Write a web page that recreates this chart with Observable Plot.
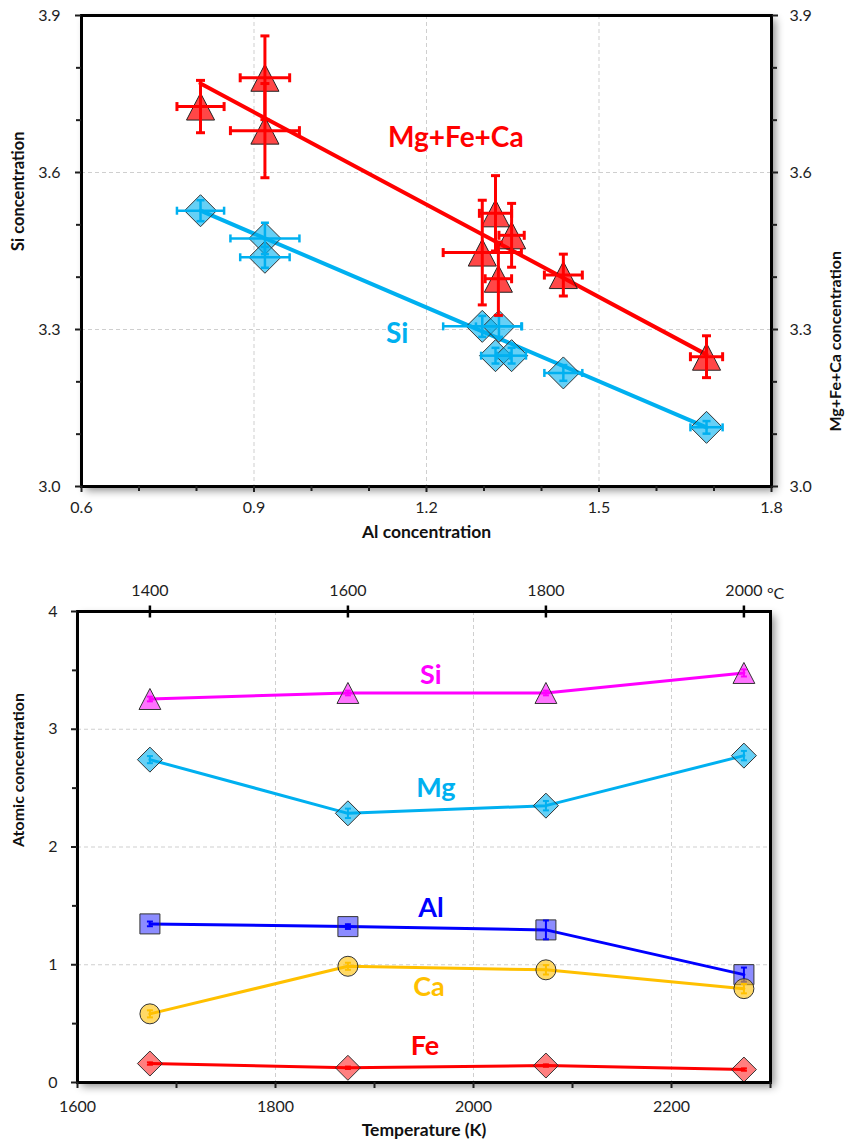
<!DOCTYPE html>
<html><head><meta charset="utf-8">
<script src="https://cdn.jsdelivr.net/npm/d3@7"></script>
<script src="https://cdn.jsdelivr.net/npm/@observablehq/plot@0.6"></script>
<style>
body{margin:0;background:#fff;}
#chart{width:846px;}
svg{display:block;}
</style></head><body><div id="chart"></div>
<script>
// ---------- Top chart data (Al concentration on x) ----------
const alMfc     = [0.807, 0.919, 0.919, 1.297, 1.320, 1.325, 1.348, 1.438, 1.687];
const mfcValues = [3.726, 3.781, 3.680, 3.447, 3.522, 3.397, 3.480, 3.404, 3.248];
const alMfcErr  = [0.041, 0.043, 0.060, 0.068, 0.028, 0.023, 0.022, 0.033, 0.028];
const mfcErr    = [0.050, 0.080, 0.090, 0.100, 0.072, 0.070, 0.061, 0.040, 0.040];

const alSi      = [0.807, 0.919, 0.919, 1.297, 1.326, 1.320, 1.348, 1.438, 1.687];
const siValues  = [3.527, 3.474, 3.438, 3.306, 3.306, 3.250, 3.250, 3.217, 3.113];
const alSiErr   = [0.041, 0.060, 0.043, 0.068, 0.040, 0.025, 0.025, 0.033, 0.028];
const siErr     = [0.020, 0.030, 0.020, 0.020, 0.020, 0.015, 0.015, 0.015, 0.012];

const fitMgX = [0.807, 1.687], fitMgY = [3.770, 3.252];
const fitSiX = [0.807, 1.687], fitSiY = [3.527, 3.113];

const topXTicks = [0.6, 0.9, 1.2, 1.5, 1.8];
const topXMinor = [0.7, 0.8, 1.0, 1.1, 1.3, 1.4, 1.6, 1.7];
const topYTicks = [3.0, 3.3, 3.6, 3.9];
const topYMinor = [3.1, 3.2, 3.4, 3.5, 3.7, 3.8];

const topLabelText = ["Mg+Fe+Ca", "Si"];
const topLabelX = [1.251, 1.149];
const topLabelY = [3.665, 3.292];
const topLabelColor = ["#ff0000", "#00b0f0"];

// ---------- Bottom chart data (temperature) ----------
const tempC = [1400, 1600, 1800, 2000];
const seriesNames = ["Si", "Mg", "Al", "Ca", "Fe"];
const siConc = [3.257, 3.308, 3.308, 3.478];
const mgConc = [2.742, 2.286, 2.351, 2.776];
const alConc = [1.347, 1.324, 1.296, 0.916];
const caConc = [0.583, 0.987, 0.957, 0.797];
const feConc = [0.161, 0.125, 0.144, 0.110];
const siE = [0.02, 0.02, 0.02, 0.03];
const mgE = [0.03, 0.04, 0.04, 0.04];
const alE = [0.02, 0.02, 0.08, 0.06];
const caE = [0.03, 0.03, 0.04, 0.04];
const feE = [0.01, 0.01, 0.01, 0.01];
const seriesColors = ["#ff00ff", "#00b0f0", "#0000ff", "#ffc000", "#ff0000"];
const seriesFillOpacity = [0.55, 0.6, 0.45, 0.6, 0.5];
const seriesSymbols = ["tri", "dia", "sq", "circle", "dia"];
const seriesR = [10.5, 12.5, 10, 10, 12.5];
const seriesLabelX = [1957, 1962, 1957, 1955, 1951];
const seriesLabelY = [3.46, 2.50, 1.48, 0.81, 0.31];

const botXTicks = [1600, 1800, 2000, 2200];
const botXMinor = [1700, 1900, 2100, 2300];
const botYTicks = [0, 1, 2, 3, 4];
const botYMinor = [0.5, 1.5, 2.5, 3.5];

// ---------- helpers ----------
function sym(kind) {
  return {draw(ctx, size) {
    const r = Math.sqrt(size / Math.PI);
    if (kind === "tri") { ctx.moveTo(0, -r); ctx.lineTo(r * 1.04, r); ctx.lineTo(-r * 1.04, r); ctx.closePath(); }
    else if (kind === "dia") { ctx.moveTo(0, -r); ctx.lineTo(r, 0); ctx.lineTo(0, r); ctx.lineTo(-r, 0); ctx.closePath(); }
    else if (kind === "sq") { ctx.rect(-r, -r, 2 * r, 2 * r); }
    else if (kind === "hcap") { ctx.moveTo(-r, 0); ctx.lineTo(r, 0); }
    else if (kind === "vcap") { ctx.moveTo(0, -r); ctx.lineTo(0, r); }
  }};
}
const FONT = "Lato, 'Open Sans', sans-serif";
const TICKFS = 16;

function errMarks(rows, color, sw, cap, withX) {
  const m = [
    Plot.ruleX(rows, {x: "x", y1: d => d.y - d.ey, y2: d => d.y + d.ey, stroke: color, strokeWidth: sw}),
    Plot.dot(rows, {x: "x", y: d => d.y - d.ey, symbol: sym("hcap"), r: cap, stroke: color, strokeWidth: sw, fill: "none"}),
    Plot.dot(rows, {x: "x", y: d => d.y + d.ey, symbol: sym("hcap"), r: cap, stroke: color, strokeWidth: sw, fill: "none"})
  ];
  if (withX) m.push(
    Plot.ruleY(rows, {y: "y", x1: d => d.x - d.ex, x2: d => d.x + d.ex, stroke: color, strokeWidth: sw}),
    Plot.dot(rows, {x: d => d.x - d.ex, y: "y", symbol: sym("vcap"), r: cap, stroke: color, strokeWidth: sw, fill: "none"}),
    Plot.dot(rows, {x: d => d.x + d.ex, y: "y", symbol: sym("vcap"), r: cap, stroke: color, strokeWidth: sw, fill: "none"})
  );
  return m;
}

// ---------- top chart ----------
const mfcRows = alMfc.map((x, i) => ({x, y: mfcValues[i], ex: alMfcErr[i], ey: mfcErr[i]}));
const siRows = alSi.map((x, i) => ({x, y: siValues[i], ex: alSiErr[i], ey: siErr[i]}));
const fitMg = fitMgX.map((x, i) => ({x, y: fitMgY[i]}));
const fitSi = fitSiX.map((x, i) => ({x, y: fitSiY[i]}));
const topLabels = topLabelText.map((t, i) => ({t, x: topLabelX[i], y: topLabelY[i], c: topLabelColor[i]}));

const topSvg = Plot.plot({
  width: 846, height: 555,
  marginTop: 15, marginBottom: 69, marginLeft: 81, marginRight: 75,
  x: {domain: [0.6, 1.8]},
  y: {domain: [3.0, 3.9]},
  style: {fontFamily: FONT, fontSize: "16px", color: "#1e1e1e", background: "white", overflow: "visible"},
  marks: [
    Plot.frame({fill: "white"}),
    Plot.gridX({ticks: topXTicks.slice(1, -1), stroke: "#cfcfcf", strokeOpacity: 1, strokeDasharray: "4,3"}),
    Plot.gridY({ticks: topYTicks.slice(1, -1), stroke: "#cfcfcf", strokeOpacity: 1, strokeDasharray: "4,3"}),
    Plot.line(fitSi, {x: "x", y: "y", stroke: "#00b0f0", strokeWidth: 4}),
    Plot.line(fitMg, {x: "x", y: "y", stroke: "#ff0000", strokeWidth: 4}),
    Plot.dot(siRows, {x: "x", y: "y", symbol: sym("dia"), r: 16, fill: "#00b0f0", fillOpacity: 0.6, stroke: "#333", strokeWidth: 1}),
    ...errMarks(siRows, "#00b0f0", 2.5, 4, true),
    Plot.dot(mfcRows, {x: "x", y: "y", symbol: sym("tri"), r: 13.5, fill: "#ff0000", fillOpacity: 0.72, stroke: "#222", strokeWidth: 1}),
    ...errMarks(mfcRows, "#ff0000", 3, 4.5, true),
    ...topLabels.map(l => Plot.text([l], {x: "x", y: "y", text: "t", fill: l.c, fontSize: 28, fontWeight: "bold"})),
    Plot.frame({stroke: "black", strokeWidth: 3}),
    Plot.axisX({ticks: topXTicks, tickFormat: d3.format(".1f"), tickSize: 6, tickPadding: 9, strokeWidth: 2, fontSize: TICKFS, label: null}),
    Plot.axisX({ticks: topXMinor, tickFormat: () => "", tickSize: 5, strokeWidth: 2, label: null}),
    Plot.axisY({ticks: topYTicks, tickFormat: d3.format(".1f"), tickSize: 6, tickPadding: 15, strokeWidth: 2, fontSize: TICKFS, label: null}),
    Plot.axisY({ticks: topYMinor, tickFormat: () => "", tickSize: 5, strokeWidth: 2, label: null}),
    Plot.axisY({anchor: "right", ticks: topYTicks, tickFormat: d3.format(".1f"), tickSize: 6, tickPadding: 12, strokeWidth: 2, fontSize: TICKFS, label: null}),
    Plot.axisY({anchor: "right", ticks: topYMinor, tickFormat: () => "", tickSize: 5, strokeWidth: 2, label: null}),
    Plot.text(["Al concentration"], {text: d => d, frameAnchor: "bottom", dy: 51, fontSize: 17.5, fontWeight: "bold", fill: "#111"}),
    Plot.text(["Si concentration"], {text: d => d, frameAnchor: "left", dx: -63, rotate: -90, fontSize: 16.5, fontWeight: "bold", fill: "#111"}),
    Plot.text(["Mg+Fe+Ca concentration"], {text: d => d, frameAnchor: "right", dx: 64, rotate: -90, fontSize: 16, fontWeight: "bold", fill: "#111"})
  ]
});

// ---------- bottom chart ----------
const concs = [siConc, mgConc, alConc, caConc, feConc];
const errs = [siE, mgE, alE, caE, feE];
const tempK = tempC.map(c => c + 273.15);
const botMarks = [
  Plot.frame({fill: "white"}),
  Plot.gridX({ticks: botXTicks.slice(1), stroke: "#cfcfcf", strokeOpacity: 1, strokeDasharray: "4,3"}),
  Plot.gridY({ticks: botYTicks.slice(1, -1), stroke: "#cfcfcf", strokeOpacity: 1, strokeDasharray: "4,3"})
];
seriesNames.forEach((name, s) => {
  const rows = tempK.map((x, i) => ({x, y: concs[s][i], ey: errs[s][i]}));
  const col = seriesColors[s];
  botMarks.push(Plot.line(rows, {x: "x", y: "y", stroke: col, strokeWidth: 3}));
  botMarks.push(Plot.dot(rows, {x: "x", y: "y", symbol: seriesSymbols[s] === "circle" ? "circle" : sym(seriesSymbols[s]),
    r: seriesR[s], fill: col, fillOpacity: seriesFillOpacity[s], stroke: "#333", strokeWidth: 1}));
  botMarks.push(...errMarks(rows, col, 2, 3, false));
  botMarks.push(Plot.text([{t: name, x: seriesLabelX[s], y: seriesLabelY[s]}], {x: "x", y: "y", text: "t", fill: col, fontSize: 27, fontWeight: "bold"}));
});
botMarks.push(
  Plot.frame({stroke: "black", strokeWidth: 3}),
  Plot.axisX({ticks: botXTicks, tickFormat: d => String(d), tickSize: 6, tickPadding: 12, strokeWidth: 2, fontSize: TICKFS, label: null}),
  Plot.axisX({ticks: botXMinor, tickFormat: () => "", tickSize: 6, strokeWidth: 2, label: null}),
  Plot.axisY({ticks: botYTicks, tickFormat: d => String(d), tickSize: 6, tickPadding: 14, strokeWidth: 2, fontSize: TICKFS, label: null}),
  Plot.axisY({ticks: botYMinor, tickFormat: () => "", tickSize: 5, strokeWidth: 2, label: null}),
  Plot.axisX({anchor: "top", ticks: tempK, tickFormat: (d, i) => String(tempC[i]), tickSize: 0, tickPadding: 16, fontSize: TICKFS, label: null}),
  Plot.dot(tempK, {x: d => d, frameAnchor: "top", symbol: sym("vcap"), r: 6, stroke: "black", strokeWidth: 2.5, fill: "none"}),
  Plot.text([tempK[3]], {x: d => d, text: () => "°C", frameAnchor: "top", dy: -24, dx: 23, textAnchor: "start", fontSize: TICKFS, fill: "#1e1e1e"}),
  Plot.text(["Temperature (K)"], {text: d => d, frameAnchor: "bottom", dy: 53, fontSize: 17.5, fontWeight: "bold", fill: "#111"}),
  Plot.text(["Atomic concentration"], {text: d => d, frameAnchor: "left", dx: -59, rotate: -90, fontSize: 16, fontWeight: "bold", fill: "#111"})
);

const botSvg = Plot.plot({
  width: 846, height: 593,
  marginTop: 56, marginBottom: 66, marginLeft: 77, marginRight: 76,
  x: {domain: [1600, 2300]},
  y: {domain: [0, 4]},
  style: {fontFamily: FONT, fontSize: "16px", color: "#1e1e1e", background: "white", overflow: "visible"},
  marks: botMarks
});

for (const svg of [topSvg, botSvg]) {
  d3.select(svg).select('[aria-label="frame"]').style("filter", "drop-shadow(4px 4px 4px rgba(0,0,0,0.45))");
  document.getElementById("chart").appendChild(svg);
}
</script>
</body></html>
